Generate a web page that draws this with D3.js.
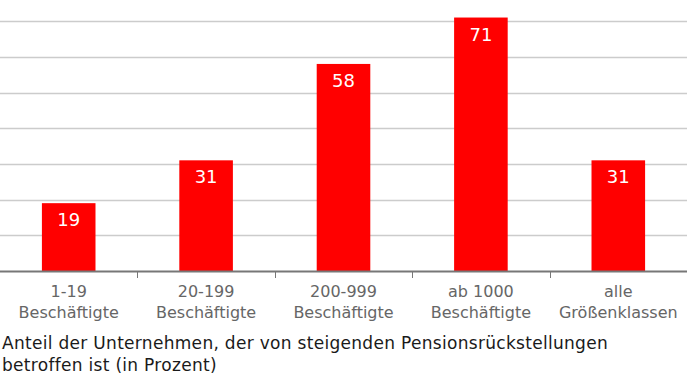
<!DOCTYPE html>
<html>
<head>
<meta charset="utf-8">
<script src="https://cdn.jsdelivr.net/npm/d3@7"></script>
<style>
  body { margin: 0; background: #fff; }
  svg { display: block; }
</style>
</head>
<body>
<div id="chart"></div>
<script>
// chart data
var categories = [["1-19", "Beschäftigte"], ["20-199", "Beschäftigte"], ["200-999", "Beschäftigte"], ["ab 1000", "Beschäftigte"], ["alle", "Größenklassen"]];
var values = [19, 31, 58, 71, 31];
var gridTicks = [10, 20, 30, 40, 50, 60, 70];
var titleLines = ["Anteil der Unternehmen, der von steigenden Pensionsrückstellungen", "betroffen ist (in Prozent)"];

var width = 687, height = 384;
var baseY = 271;

var svg = d3.select("#chart").append("svg")
    .attr("width", width)
    .attr("height", height);

var x = d3.scaleBand()
    .domain(d3.range(categories.length))
    .range([0, width])
    .paddingInner(0.61)
    .paddingOuter(0.305);

var y = d3.scaleLinear()
    .domain([0, 10])
    .range([baseY, baseY - 35.7]);

// gridlines
svg.append("g")
    .selectAll("line")
    .data(gridTicks)
    .enter().append("line")
    .attr("x1", 0)
    .attr("x2", width)
    .attr("y1", function(d) { return Math.round(y(d)) + 0.5; })
    .attr("y2", function(d) { return Math.round(y(d)) + 0.5; })
    .style("stroke", "#cccccc")
    .style("stroke-width", "1.5px");

// bars
svg.append("g")
    .selectAll("rect")
    .data(values)
    .enter().append("rect")
    .attr("x", function(d, i) { return x(i); })
    .attr("y", function(d) { return y(d); })
    .attr("width", x.bandwidth())
    .attr("height", function(d) { return baseY - y(d); })
    .style("fill", "#ff0000");

// value labels
svg.append("g")
    .selectAll("text")
    .data(values)
    .enter().append("text")
    .attr("x", function(d, i) { return x(i) + x.bandwidth() / 2; })
    .attr("y", function(d) { return y(d) + 23; })
    .attr("text-anchor", "middle")
    .style("font-family", "'DejaVu Sans', sans-serif")
    .style("font-size", "18px")
    .style("fill", "#ffffff")
    .text(function(d) { return d; });

// baseline + category ticks
var step = width / categories.length;
svg.append("line")
    .attr("x1", 0).attr("x2", width)
    .attr("y1", baseY + 0.5).attr("y2", baseY + 0.5)
    .style("stroke", "#777777")
    .style("stroke-width", "2px");

svg.append("g")
    .selectAll("line")
    .data(d3.range(1, categories.length))
    .enter().append("line")
    .attr("x1", function(d) { return Math.round(d * step) + 0.5; })
    .attr("x2", function(d) { return Math.round(d * step) + 0.5; })
    .attr("y1", baseY)
    .attr("y2", baseY + 7)
    .style("stroke", "#777777")
    .style("stroke-width", "1px");

// category labels
var catLabel = svg.append("g")
    .selectAll("text")
    .data(categories)
    .enter().append("text")
    .attr("text-anchor", "middle")
    .style("font-family", "'DejaVu Sans', sans-serif")
    .style("font-size", "16px")
    .style("fill", "#666666");

catLabel.selectAll("tspan")
    .data(function(d, i) { return d.map(function(t) { return {t: t, i: i}; }); })
    .enter().append("tspan")
    .attr("x", function(d) { return (d.i + 0.5) * step; })
    .attr("y", function(d, j) { return 297 + j * 20.6; })
    .text(function(d) { return d.t; });

// title
svg.append("g")
    .selectAll("text")
    .data(titleLines)
    .enter().append("text")
    .attr("x", 2)
    .attr("y", function(d, i) { return 349 + i * 22; })
    .style("font-family", "'DejaVu Sans', sans-serif")
    .style("font-size", "17px")
    .style("letter-spacing", "0.3px")
    .style("fill", "#1a1a1a")
    .text(function(d) { return d; });
</script>
</body>
</html>
